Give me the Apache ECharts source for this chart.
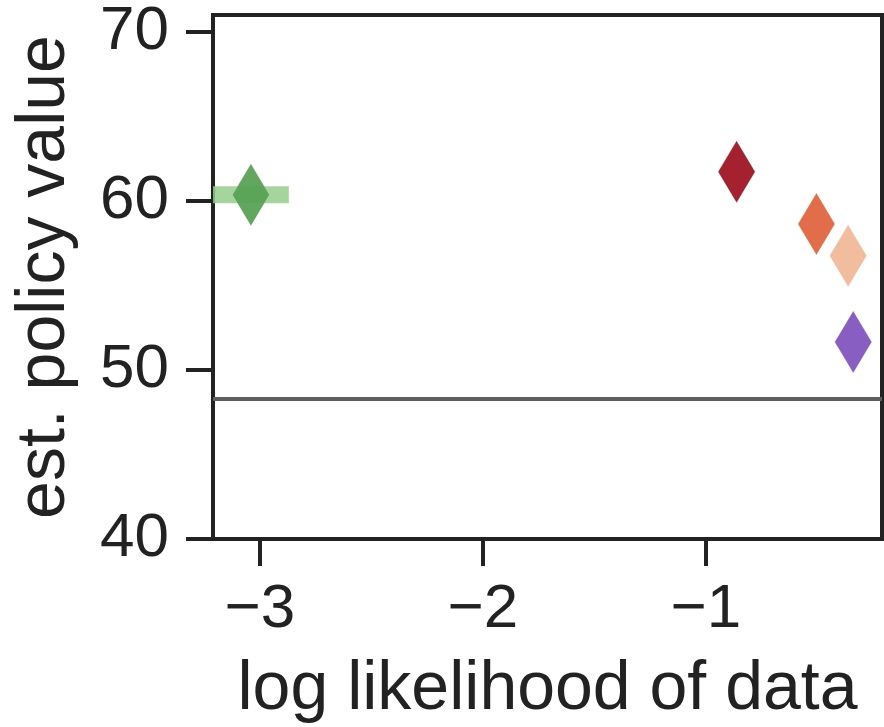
<!DOCTYPE html>
<html>
<head>
<meta charset="utf-8">
<script src="https://cdn.jsdelivr.net/npm/echarts@6/dist/echarts.min.js"></script>
<style>
html,body{margin:0;padding:0;background:#fff;}
#chart{width:884px;height:727px;}
</style>
</head>
<body>
<div id="chart"></div>
<script>
// Data
var pointNames = ['green', 'darkred', 'orange', 'peach', 'purple'];
var pointX = [-3.04, -0.862, -0.504, -0.362, -0.339];
var pointY = [60.36, 61.72, 58.64, 56.75, 51.66];
var pointColors = ['#55a052', '#9c0f1d', '#e0613b', '#f0b796', '#7f50bd'];
var errX = [-3.21, -2.87];      // horizontal error band of the green point
var errY = 60.36;
var baselineY = 48.28;
var xTicks = [-3, -2, -1];
var yTicks = [40, 50, 60, 70];

var FONT = '"Liberation Sans", Arial, sans-serif';
var chart = echarts.init(document.getElementById('chart'), null, {renderer: 'canvas'});

var series = [];
series.push({
  type: 'line',
  data: [[errX[0], errY], [errX[1], errY]],
  symbol: 'none',
  lineStyle: {color: 'rgba(150,205,140,0.85)', width: 17, cap: 'butt'},
  clip: true,
  silent: true,
  z: 2,
  markLine: {
    silent: true,
    symbol: 'none',
    label: {show: false},
    lineStyle: {color: '#5e5e5e', width: 4, type: 'solid'},
    data: [{yAxis: baselineY}]
  }
});
for (var i = 0; i < pointNames.length; i++) {
  series.push({
    type: 'scatter',
    name: pointNames[i],
    data: [[pointX[i], pointY[i]]],
    symbol: 'diamond',
    symbolSize: [37, 62],
    itemStyle: {color: pointColors[i], opacity: 0.92, borderColor: 'rgba(255,255,255,0.2)', borderWidth: 1},
    z: 3
  });
}

chart.setOption({
  animation: false,
  backgroundColor: '#ffffff',
  grid: {left: 213, right: 2, top: 15, bottom: 188, containLabel: false, outerBoundsMode: 'none',
    show: true, borderColor: '#222222', borderWidth: 4, backgroundColor: 'transparent'},
  xAxis: {
    type: 'value',
    min: -3.21, max: -0.21,
    name: 'log likelihood of data',
    nameLocation: 'middle',
    nameGap: 117,
    nameTextStyle: {fontFamily: FONT, fontSize: 68, color: '#222222'},
    axisLine: {show: true, onZero: false, lineStyle: {color: '#222222', width: 4}},
    axisTick: {show: true, length: 27, lineStyle: {color: '#222222', width: 4}, customValues: xTicks},
    axisLabel: {fontFamily: FONT, fontSize: 62, color: '#222222', margin: 40, customValues: xTicks,
      formatter: function (v) { return String(v).replace('-', '\u2212'); }},
    splitLine: {show: false}
  },
  yAxis: {
    type: 'value',
    min: 40, max: 71,
    name: 'est. policy value',
    nameLocation: 'middle',
    nameGap: 134,
    nameTextStyle: {fontFamily: FONT, fontSize: 68, color: '#222222'},
    axisLine: {show: true, onZero: false, lineStyle: {color: '#222222', width: 4}},
    axisTick: {show: true, length: 27, lineStyle: {color: '#222222', width: 4}, customValues: yTicks},
    axisLabel: {fontFamily: FONT, fontSize: 62, color: '#222222', margin: 44, customValues: yTicks},
    splitLine: {show: false}
  },
  series: series
});
</script>
</body>
</html>
